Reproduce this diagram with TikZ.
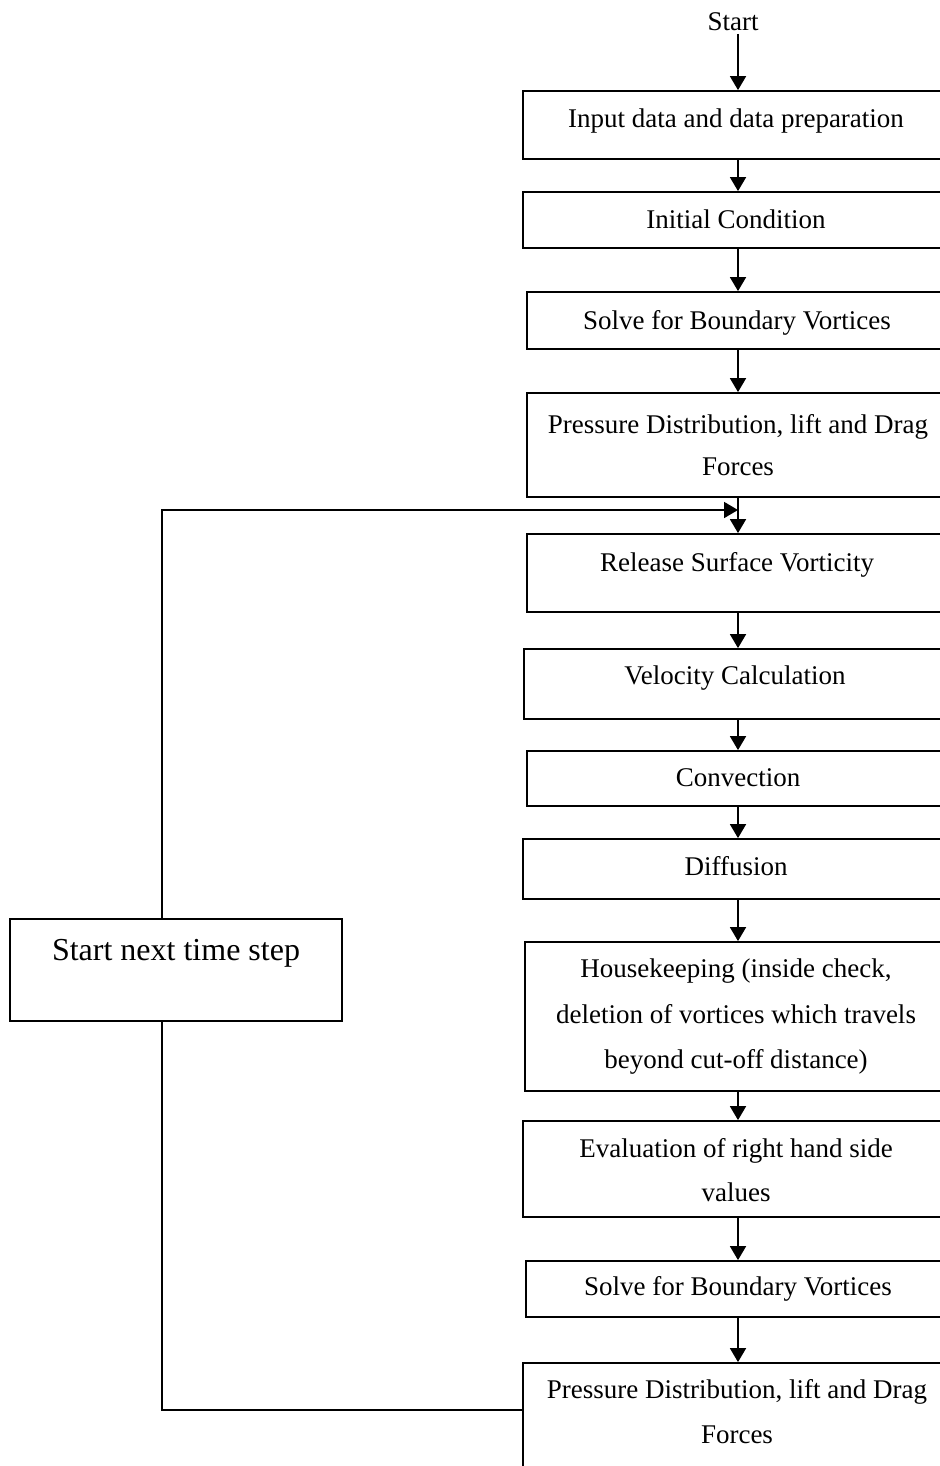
\documentclass[tikz,border=0pt]{standalone}
\usepackage{fontspec}
\setmainfont{Liberation Serif}
\usetikzlibrary{arrows.meta,fit,calc}
\tikzset{
  box/.style={draw=black, line width=0.9pt, inner sep=0pt, fill=none},
  txt/.style={anchor=base, inner sep=0pt, font=\fontsize{13.5}{16}\selectfont},
  bigtxt/.style={anchor=base, inner sep=0pt, font=\fontsize{16}{19}\selectfont},
  arr/.style={line width=0.9pt, -{Triangle[width=8pt,length=7pt]}},
  ln/.style={line width=0.9pt}
}
\begin{document}
\begin{tikzpicture}[x=0.5pt,y=-0.5pt]
\useasboundingbox (0,0) rectangle (940,1466);
\clip (0,0) rectangle (940,1466);
\coordinate (ax) at (738,0);
\coordinate (lx) at (162,0);
\coordinate (ly) at (0,510);
\coordinate (py) at (0,1410);
% boxes
\node[box, fit={(523,91) (955,159)}] (b1) {};
\node[box, fit={(523,192) (955,248)}] (b2) {};
\node[box, fit={(527,292) (955,349)}] (b3) {};
\node[box, fit={(527,393) (955,497)}] (b4) {};
\node[box, fit={(527,534) (955,612)}] (b5) {};
\node[box, fit={(524,649) (955,719)}] (b6) {};
\node[box, fit={(527,751) (955,806)}] (b7) {};
\node[box, fit={(523,839) (955,899)}] (b8) {};
\node[box, fit={(525,942) (955,1091)}] (b9) {};
\node[box, fit={(523,1121) (955,1217)}] (b10) {};
\node[box, fit={(526,1261) (955,1317)}] (b11) {};
\node[box, fit={(523,1363) (955,1490)}] (b12) {};
\node[box, fit={(10,919) (342,1021)}] (sn) {};
% texts
\node[txt] (tstart) at (733,31) {Start};
\node[txt] (t1) at (736,128) {Input data and data preparation};
\node[txt] (t2) at (736,228) {Initial Condition};
\node[txt] (t3) at (737,329) {Solve for Boundary Vortices};
\node[txt] (t4a) at (738,433) {Pressure Distribution, lift and Drag};
\node[txt] (t4b) at (738,475) {Forces};
\node[txt] (t5) at (737,571) {Release Surface Vorticity};
\node[txt] (t6) at (735,684) {Velocity Calculation};
\node[txt] (t7) at (738,786) {Convection};
\node[txt] (t8) at (736,875) {Diffusion};
\node[txt] (t9a) at (736,977) {Housekeeping (inside check,};
\node[txt] (t9b) at (736,1023) {deletion of vortices which travels};
\node[txt] (t9c) at (736,1068) {beyond cut-off distance)};
\node[txt] (t10a) at (736,1157) {Evaluation of right hand side};
\node[txt] (t10b) at (736,1201) {values};
\node[txt] (t11) at (738,1295) {Solve for Boundary Vortices};
\node[txt] (t12a) at (737,1398) {Pressure Distribution, lift and Drag};
\node[txt] (t12b) at (737,1443) {Forces};
\node[bigtxt] (tsn) at (176,960) {Start next time step};
% connectors
\coordinate (s0) at (738,34);
\draw[arr] (s0) -- (b1.north -| ax);
\draw[arr] (b1.south -| ax) -- (b2.north -| ax);
\draw[arr] (b2.south -| ax) -- (b3.north -| ax);
\draw[arr] (b3.south -| ax) -- (b4.north -| ax);
\draw[arr] (b4.south -| ax) -- (b5.north -| ax);
\draw[arr] (b5.south -| ax) -- (b6.north -| ax);
\draw[arr] (b6.south -| ax) -- (b7.north -| ax);
\draw[arr] (b7.south -| ax) -- (b8.north -| ax);
\draw[arr] (b8.south -| ax) -- (b9.north -| ax);
\draw[arr] (b9.south -| ax) -- (b10.north -| ax);
\draw[arr] (b10.south -| ax) -- (b11.north -| ax);
\draw[arr] (b11.south -| ax) -- (b12.north -| ax);
\coordinate (le) at (738,510);
\draw[arr] (sn.north -| lx) |- (le);
\draw[ln] (sn.south -| lx) |- (b12.west |- py);
\end{tikzpicture}
\end{document}
